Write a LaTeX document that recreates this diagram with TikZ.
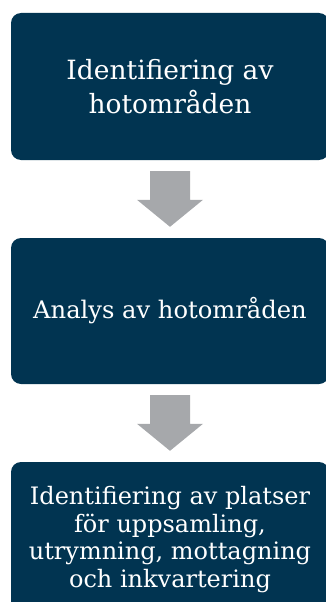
\documentclass[tikz,border=0pt]{standalone}
\usepackage{fontspec}
\setmainfont{DejaVu Serif}
\usepackage{tikz}
\usetikzlibrary{calc, positioning}
\definecolor{Navy}    {HTML}{013451}
\definecolor{ArrowGrey}{HTML}{A6A8AB}

\begin{document}
\begin{tikzpicture}[x=1pt, y=-1pt]
  \useasboundingbox (0,0) rectangle (326,602);
  % Step boxes
  \node[fill=Navy, rounded corners=10pt, minimum width=318pt, minimum height=147pt,
        inner sep=0pt, text=white, align=center,
        font=\fontsize{26.5}{34}\selectfont] (identify) at (170, 86.5) {Identifiering av\\hotområden};
  \node[fill=Navy, rounded corners=10pt, minimum width=318pt, minimum height=146pt,
        inner sep=0pt, text=white, align=center,
        font=\fontsize{24.2}{34}\selectfont] (analyse) at (170, 311) {Analys av hotområden};
  \node[fill=Navy, rounded corners=10pt, minimum width=318pt, minimum height=155pt,
        inner sep=0pt, text=white, align=center,
        font=\fontsize{24}{27.5}\selectfont] (places) at (170, 539.5)
        {Identifiering av platser\\för uppsamling,\\utrymning, mottagning\\och inkvartering};
  % Grey block arrows between the boxes
  \foreach \from/\to in {identify/analyse, analyse/places}
    \fill[ArrowGrey] ($(\from.south)+(-20,11)$) -- ($(\from.south)+(20,11)$)
      -- ($(\to.north)+(20,-38)$) -- ($(\to.north)+(33,-38)$)
      -- ($(\to.north)+(0,-11)$)
      -- ($(\to.north)+(-33,-38)$) -- ($(\to.north)+(-20,-38)$) -- cycle;
\end{tikzpicture}
\end{document}
